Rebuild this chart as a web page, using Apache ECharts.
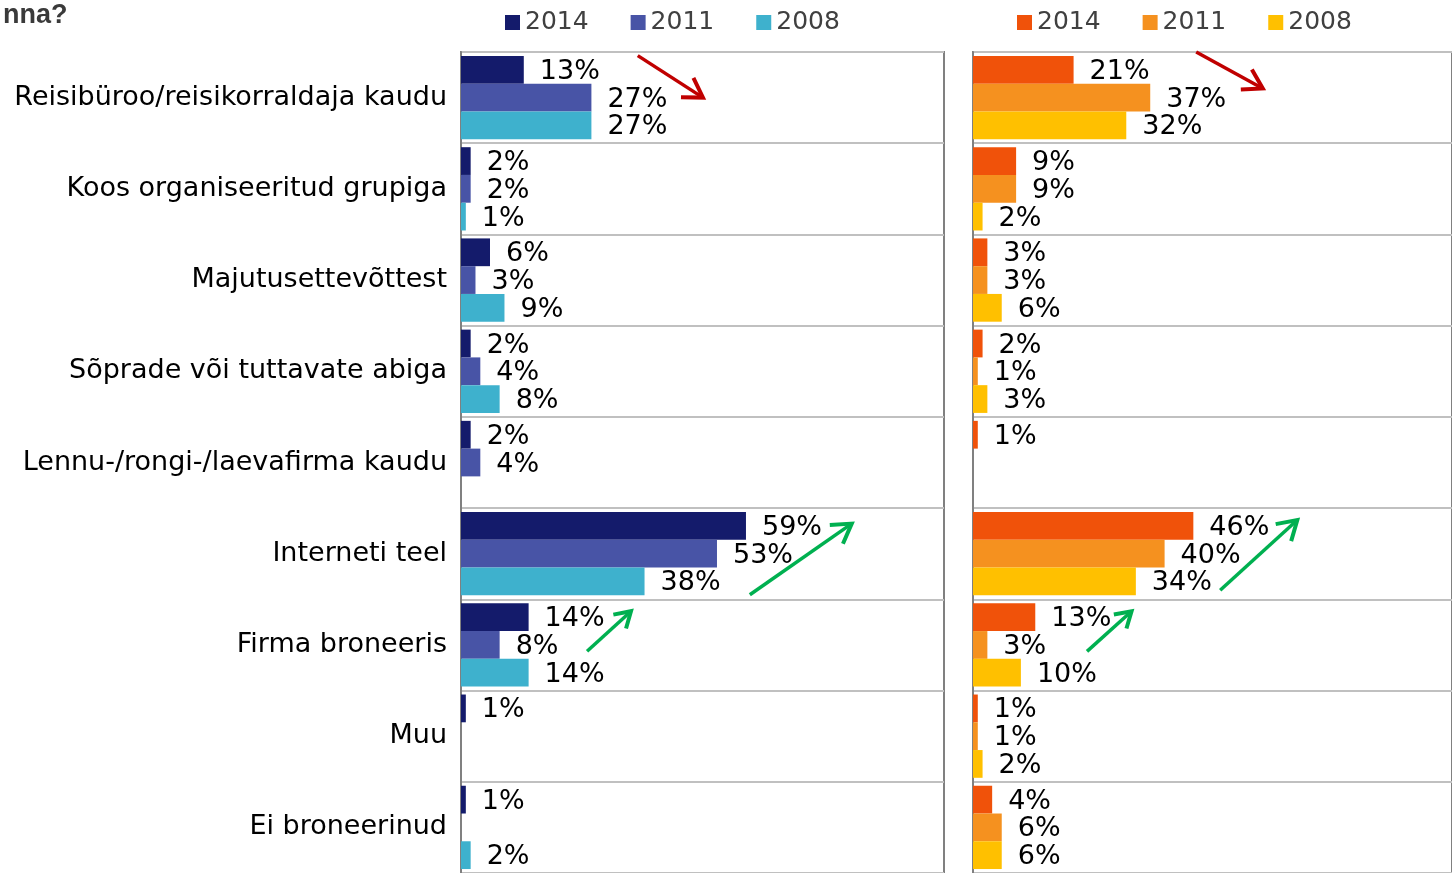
<!DOCTYPE html>
<html>
<head>
<meta charset="utf-8">
<script src="https://cdn.jsdelivr.net/npm/echarts@6/dist/echarts.min.js"></script>
<style>
html,body{margin:0;padding:0;background:#fff;}
#chart{width:1452px;height:873px;}
</style>
</head>
<body>
<div id="chart"></div>
<script>
const categories = [
  'Reisibüroo/reisikorraldaja kaudu',
  'Koos organiseeritud grupiga',
  'Majutusettevõttest',
  'Sõprade või tuttavate abiga',
  'Lennu-/rongi-/laevafirma kaudu',
  'Interneti teel',
  'Firma broneeris',
  'Muu',
  'Ei broneerinud'
];
const years = ['2014', '2011', '2008'];
// left panel
const left2014 = [13, 2, 6, 2, 2, 59, 14, 1, 1];
const left2011 = [27, 2, 3, 4, 4, 53, 8, null, null];
const left2008 = [27, 1, 9, 8, null, 38, 14, null, 2];
// right panel
const right2014 = [21, 9, 3, 2, 1, 46, 13, 1, 4];
const right2011 = [37, 9, 3, 1, null, 40, 3, 1, 6];
const right2008 = [32, 2, 6, 3, null, 34, 10, 2, 6];

const leftColors = ['#141B6B', '#4854A6', '#3EB1CD'];
const rightColors = ['#F0520A', '#F5911F', '#FFC000'];

// trend arrows: [grid, x1(%), row1, x2(%), row2, color]
const arrows = [
  [0, 36.6, 0.04, 50.1, 0.50, '#C00000'],
  [1, 46.6, 0.00, 60.5, 0.40, '#C00000'],
  [0, 59.8, 5.95, 80.9, 5.17, '#00B050'],
  [0, 26.1, 6.57, 35.2, 6.13, '#00B050'],
  [1, 51.6, 5.90, 67.7, 5.13, '#00B050'],
  [1, 23.8, 6.57, 33.1, 6.13, '#00B050']
];

const FONT = 'DejaVu Sans';
const chart = echarts.init(document.getElementById('chart'));

function makeSeries(data, name, color, gi) {
  return {
    type: 'bar', name: name, data: data,
    xAxisIndex: gi, yAxisIndex: gi,
    barGap: '0%', barCategoryGap: '8.7%',
    itemStyle: { color: color },
    label: {
      show: true, position: 'right', distance: 16, offset: [0, 2],
      formatter: '{c}%', fontSize: 27, fontFamily: FONT, color: '#000'
    },
    silent: true
  };
}

function gridCfg(left) {
  return {
    left: left, top: 52, width: 483, height: 826,
    show: true, borderColor: '#808080', borderWidth: 2, backgroundColor: '#fff'
  };
}
function xCfg(gi) {
  return {
    type: 'value', gridIndex: gi, min: 0, max: 100,
    axisLine: { show: false }, axisTick: { show: false },
    axisLabel: { show: false }, splitLine: { show: false }
  };
}
function yCfg(gi, showLabels) {
  return {
    type: 'category', gridIndex: gi, data: categories, inverse: true,
    axisLine: { show: true, lineStyle: { color: '#808080', width: 2 } },
    axisTick: { show: false },
    axisLabel: { show: showLabels, fontSize: 27, fontFamily: FONT, color: '#000', margin: 14 },
    splitLine: { show: true, lineStyle: { color: '#C0C0C0', width: 2 } }
  };
}

const option = {
  animation: false,
  backgroundColor: '#fff',
  textStyle: { fontFamily: FONT },
  title: {
    text: 'nna?', left: -2, top: -3,
    textStyle: { fontFamily: 'Liberation Sans', fontWeight: 'bold', fontSize: 27, color: '#3A3A3A' }
  },
  legend: [
    {
      data: years.map(y => ({ name: y })), left: 500, top: 5,
      itemWidth: 15, itemHeight: 15, itemGap: 42, icon: 'rect',
      textStyle: { fontSize: 25, fontFamily: FONT, color: '#404040' },
      selectedMode: false
    }
  ],
  grid: [gridCfg(461), gridCfg(973)],
  xAxis: [xCfg(0), xCfg(1)],
  yAxis: [yCfg(0, true), yCfg(1, false)],
  series: [
    makeSeries(left2014, '2014', leftColors[0], 0),
    makeSeries(left2011, '2011', leftColors[1], 0),
    makeSeries(left2008, '2008', leftColors[2], 0),
    makeSeries(right2014, '2014 ', rightColors[0], 1),
    makeSeries(right2011, '2011 ', rightColors[1], 1),
    makeSeries(right2008, '2008 ', rightColors[2], 1)
  ]
};
option.legend.push({
  data: years.map(y => ({ name: y + ' ' })), left: 1012, top: 5,
  itemWidth: 15, itemHeight: 15, itemGap: 42, icon: 'rect',
  textStyle: { fontSize: 25, fontFamily: FONT, color: '#404040' },
  formatter: n => n.trim(),
  selectedMode: false
});
chart.setOption(option);

// arrows placed in data space
const graphics = [];
arrows.forEach(a => {
  const gi = a[0];
  const p0 = chart.convertToPixel({ gridIndex: gi }, [0, 0]);
  const p1 = chart.convertToPixel({ gridIndex: gi }, [0, 1]);
  const pX = chart.convertToPixel({ gridIndex: gi }, [100, 0]);
  const rowH = p1[1] - p0[1];
  const xs = (pX[0] - p0[0]) / 100;
  const x1 = p0[0] + a[1] * xs, y1 = p0[1] + (a[2] - 0.5) * rowH;
  const x2 = p0[0] + a[3] * xs, y2 = p0[1] + (a[4] - 0.5) * rowH;
  const ang = Math.atan2(y2 - y1, x2 - x1);
  const len = Math.hypot(x2 - x1, y2 - y1);
  const head = len > 60 ? 22 : 18;
  const spread = 0.55;
  const h1 = [x2 - head * Math.cos(ang - spread), y2 - head * Math.sin(ang - spread)];
  const h2 = [x2 - head * Math.cos(ang + spread), y2 - head * Math.sin(ang + spread)];
  graphics.push({
    type: 'polyline', silent: true, z: 100,
    shape: { points: [[x1, y1], [x2, y2]] },
    style: { stroke: a[5], lineWidth: 3.5, fill: null }
  });
  graphics.push({
    type: 'polyline', silent: true, z: 100,
    shape: { points: [h1, [x2, y2], h2] },
    style: { stroke: a[5], lineWidth: 4, fill: null, lineJoin: 'miter' }
  });
});
chart.setOption({ graphic: graphics });
</script>
</body>
</html>
